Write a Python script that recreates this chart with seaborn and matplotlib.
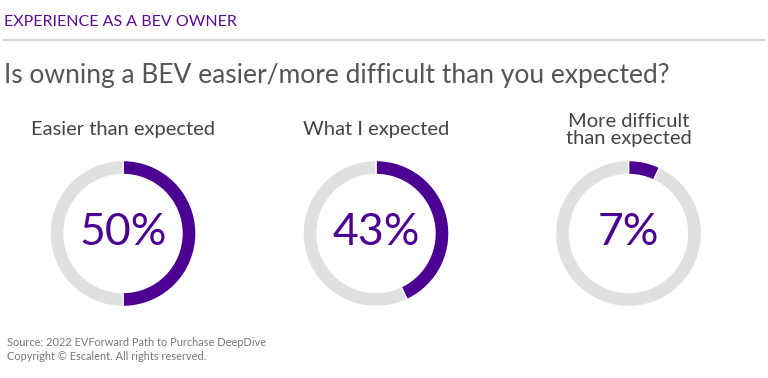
import matplotlib
matplotlib.use("Agg")
import matplotlib.pyplot as plt
import seaborn as sns

sns.set_theme(style="white")
plt.rcParams['font.family'] = ['Lato', 'DejaVu Sans']

categories = ["Easier than expected", "What I expected", "More difficult\nthan expected"]
values = [50, 43, 7]
value_labels = ["50%", "43%", "7%"]

PURPLE = "#4B0092"
GREY = "#E0E0E0"

W, H = 768, 378
fig = plt.figure(figsize=(W / 100, H / 100), dpi=100)
fig.patch.set_facecolor("white")

def fx(px):
    return px / W

def fy(py):
    return 1 - py / H

fig.text(fx(4), fy(22), "EXPERIENCE AS A BEV OWNER", color="#5B0A9B", fontsize=11.5,
         va="center", ha="left")
fig.add_artist(plt.Line2D([fx(3), fx(765)], [fy(40), fy(40)], color="#CCCCCC", lw=1.2))
fig.text(fx(4), fy(75), "Is owning a BEV easier/more difficult than you expected?",
         color="#555555", fontsize=19, va="center", ha="left")

centers = [123, 376, 628.5]
cy = 233.5
R = 73
ring = 14

for cx, cat, v, lab in zip(centers, categories, values, value_labels):
    ax = fig.add_axes([fx(cx - R), fy(cy + R), (2 * R) / W, (2 * R) / H])
    ax.pie([v, 100 - v], colors=[PURPLE, GREY], startangle=90, counterclock=False,
           radius=1, wedgeprops=dict(width=ring / R, edgecolor="white", linewidth=1))
    ax.set_xlim(-1, 1)
    ax.set_ylim(-1, 1)
    ax.set_aspect("equal")
    ax.axis("off")
    ax.text(0, 0.02, lab, ha="center", va="center", color=PURPLE, fontsize=32,
            fontweight="normal")
    if "\n" in cat:
        fig.text(fx(cx), fy(130), cat, ha="center", va="center", color="#444444",
                 fontsize=14.5, linespacing=1.05)
    else:
        fig.text(fx(cx), fy(130), cat, ha="center", va="center", color="#444444",
                 fontsize=14.5)

fig.text(fx(7), fy(343), "Source: 2022 EVForward Path to Purchase DeepDive",
         color="#777777", fontsize=7.9, va="center", ha="left")
fig.text(fx(7), fy(357), "Copyright © Escalent. All rights reserved.",
         color="#777777", fontsize=7.9, va="center", ha="left")

fig.savefig("out.png", dpi=100, facecolor="white")
